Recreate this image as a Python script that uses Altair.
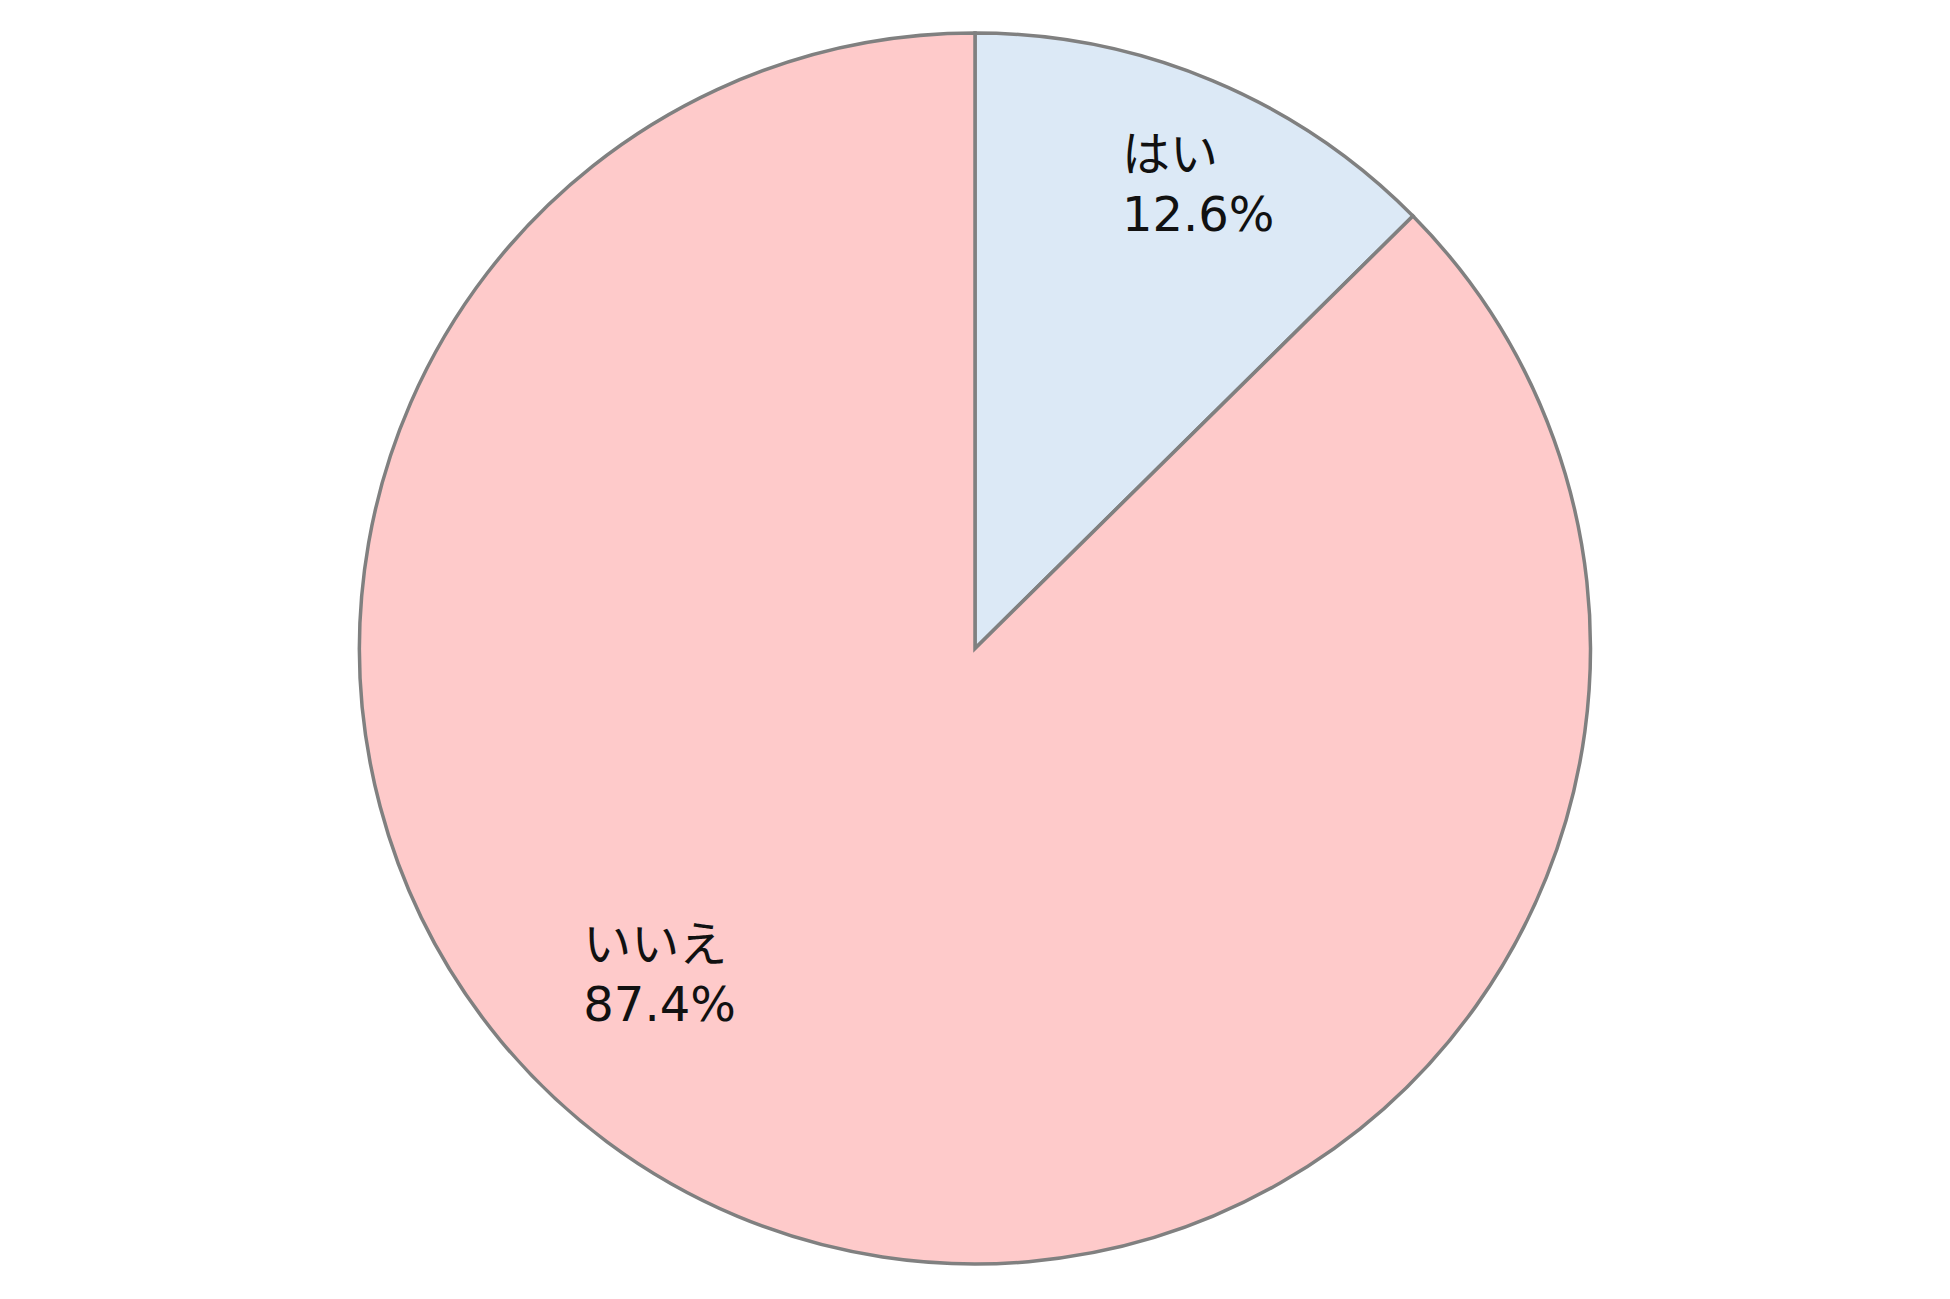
import altair as alt
import pandas as pd

categories = ["はい", "いいえ"]
values = [12.6, 87.4]
pct_labels = ["12.6%", "87.4%"]
colors = ["#DCE9F6", "#FECACA"]

# label anchor (left edge, vertical middle) in polar terms: angle clockwise from top, fraction of radius
label_angle = [16.65, 232.7]
label_rfrac = [0.8335, 0.800]

W, H = 1934, 1281
R = 615.5

df = pd.DataFrame({
    "cat": categories,
    "value": values,
    "order": list(range(len(categories))),
    "pct": pct_labels,
    "ang": label_angle,
    "rf": label_rfrac,
})

base = alt.Chart(df)

pie = base.mark_arc(outerRadius=R, stroke="#808080", strokeWidth=3.5).encode(
    theta=alt.Theta("value:Q", stack=True),
    color=alt.Color("cat:N", scale=alt.Scale(domain=categories, range=colors), legend=None),
    order=alt.Order("order:Q"),
)

labels = base.transform_calculate(
    px=f"{R}*datum.rf*sin(datum.ang*PI/180)",
    py=f"{R}*datum.rf*cos(datum.ang*PI/180)",
    txt="[datum.cat, datum.pct]",
).mark_text(
    align="left", baseline="middle", fontSize=48, lineHeight=60,
    font="DejaVu Sans, Noto Sans CJK JP", color="#111111",
).encode(
    x=alt.X("px:Q", scale=alt.Scale(domain=[-W / 2, W / 2]), axis=None),
    y=alt.Y("py:Q", scale=alt.Scale(domain=[-H / 2, H / 2]), axis=None),
    text="txt:N",
)

chart = alt.layer(pie, labels).resolve_scale(theta="independent").properties(
    width=W, height=H, padding=0, autosize=alt.AutoSizeParams(type="none")
).configure_view(stroke=None)

chart.save("out.html", embed_options={"renderer": "svg", "actions": False})
